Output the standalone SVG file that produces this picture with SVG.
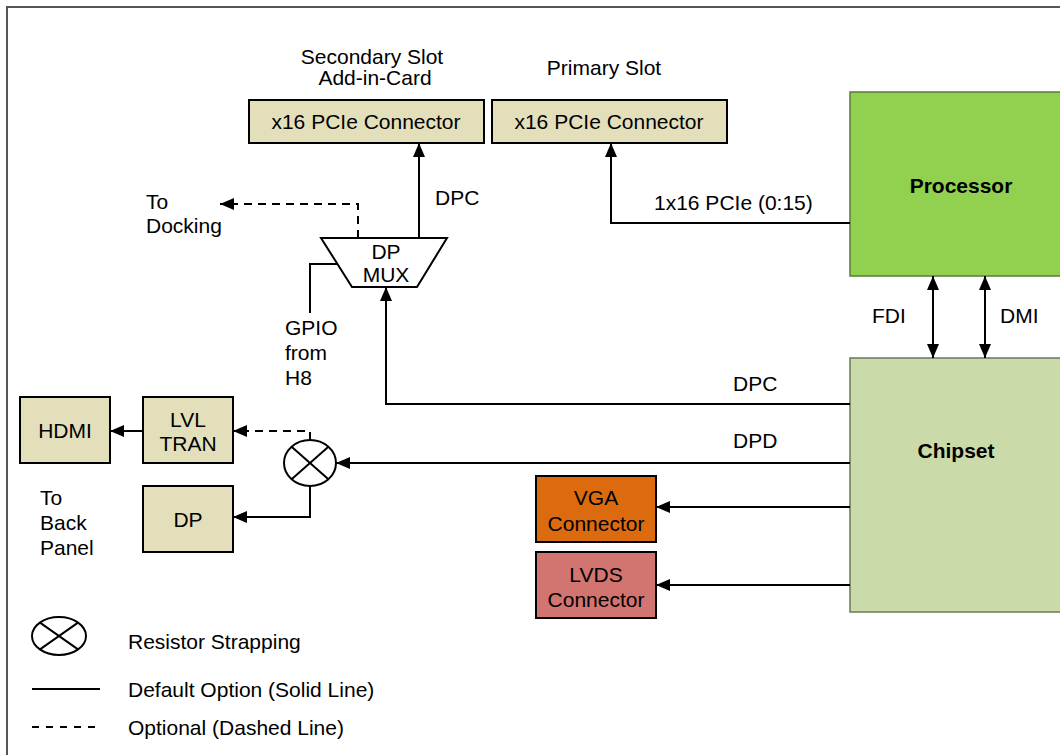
<svg xmlns="http://www.w3.org/2000/svg" width="1060" height="755" viewBox="0 0 1060 755">
  <style>
    text { font-family: "Liberation Sans", Arial, sans-serif; font-size: 21px; fill: #000; }
    .mid { text-anchor: middle; }
    .bold { font-weight: bold; }
    .box { stroke: #000; stroke-width: 2; }
    .slot { fill: #e3dfbb; }
    .wire { fill: none; stroke: #000; stroke-width: 2; }
    .dash { stroke-dasharray: 8 6; }
    .arr { marker-end: url(#head); }
    .both { marker-start: url(#head); marker-end: url(#head); }
  </style>
  <defs>
    <marker id="head" markerUnits="userSpaceOnUse" markerWidth="14" markerHeight="12" refX="14" refY="6" orient="auto-start-reverse">
      <path d="M0,0 L14,6 L0,12 z" fill="#000"/>
    </marker>
  </defs>

  <rect width="1060" height="755" fill="#fff"/>
  <!-- page frame -->
  <path d="M7,755 V7 H1060" fill="none" stroke="#555" stroke-width="2"/>

  <!-- slot captions -->
  <text class="mid" x="372" y="64">Secondary Slot</text>
  <text class="mid" x="375" y="85">Add-in-Card</text>
  <text class="mid" x="604" y="75">Primary Slot</text>

  <g id="secondary-slot">
    <rect class="box slot" x="249" y="100" width="235" height="43"/>
    <text class="mid" x="366" y="129">x16 PCIe Connector</text>
  </g>
  <g id="primary-slot">
    <rect class="box slot" x="492" y="100" width="235" height="43"/>
    <text class="mid" x="609" y="129">x16 PCIe Connector</text>
  </g>

  <g id="processor">
    <rect x="850" y="92" width="220" height="184" fill="#92d050" stroke="#5b7a3c" stroke-width="1.5"/>
    <text class="mid bold" x="961" y="193">Processor</text>
  </g>
  <g id="chipset">
    <rect x="850" y="358" width="220" height="254" fill="#cbdaa9" stroke="#6b7858" stroke-width="1.5"/>
    <text class="mid bold" x="956" y="458">Chipset</text>
  </g>

  <g id="dp-mux">
    <path class="box" d="M321,238 H447 L417,287 H352 Z" fill="#fff"/>
    <text class="mid" x="386" y="259">DP</text>
    <text class="mid" x="386" y="282">MUX</text>
  </g>

  <g id="strap">
    <ellipse cx="310" cy="463" rx="26" ry="23" fill="#fff" stroke="#000" stroke-width="2"/>
    <path d="M291.6,446.7 L328.4,479.3 M328.4,446.7 L291.6,479.3" stroke="#000" stroke-width="2"/>
  </g>

  <g id="hdmi">
    <rect class="box slot" x="20" y="397" width="90" height="66"/>
    <text class="mid" x="65" y="438">HDMI</text>
  </g>
  <g id="lvl-tran">
    <rect class="box slot" x="143" y="397" width="90" height="66"/>
    <text class="mid" x="188" y="427">LVL</text>
    <text class="mid" x="188" y="451">TRAN</text>
  </g>
  <g id="dp">
    <rect class="box slot" x="143" y="486" width="90" height="66"/>
    <text class="mid" x="188" y="527">DP</text>
  </g>
  <g id="vga">
    <rect class="box" x="536" y="476" width="120" height="66" fill="#dc6b10"/>
    <text class="mid" x="596" y="505">VGA</text>
    <text class="mid" x="596" y="531">Connector</text>
  </g>
  <g id="lvds">
    <rect class="box" x="536" y="552" width="120" height="66" fill="#d27470"/>
    <text class="mid" x="596" y="582">LVDS</text>
    <text class="mid" x="596" y="607">Connector</text>
  </g>

  <g id="connectors">
    <path class="wire arr" d="M419,238 V143"/>
    <path class="wire dash arr" d="M358,238 V204 H220"/>
    <path class="wire arr" d="M850,223 H611 V143"/>
    <path class="wire" d="M337,264 H310 V313"/>
    <path class="wire arr" d="M850,404 H386 V287"/>
    <path class="wire arr" d="M850,463 H336"/>
    <path class="wire dash arr" d="M310,440 V431 H233"/>
    <path class="wire arr" d="M143,431 H110"/>
    <path class="wire arr" d="M310,486 V517 H233"/>
    <path class="wire arr" d="M850,507 H656"/>
    <path class="wire arr" d="M850,585 H656"/>
    <path class="wire both" d="M933,276 V358"/>
    <path class="wire both" d="M985,276 V358"/>
  </g>

  <!-- connector labels -->
  <text x="435" y="205">DPC</text>
  <text x="146" y="209">To</text>
  <text x="146" y="233">Docking</text>
  <text x="654" y="210">1x16 PCIe (0:15)</text>
  <text x="285" y="335">GPIO</text>
  <text x="285" y="360">from</text>
  <text x="285" y="385">H8</text>
  <text x="872" y="323">FDI</text>
  <text x="1000" y="323">DMI</text>
  <text x="733" y="391">DPC</text>
  <text x="733" y="448">DPD</text>
  <text x="40" y="505">To</text>
  <text x="40" y="530">Back</text>
  <text x="40" y="555">Panel</text>

  <g id="legend">
    <ellipse cx="59" cy="636" rx="27" ry="19" fill="none" stroke="#000" stroke-width="2"/>
    <path d="M40,622.6 L78,649.4 M78,622.6 L40,649.4" stroke="#000" stroke-width="2"/>
    <text x="128" y="649">Resistor Strapping</text>
    <path d="M32,689 H100" stroke="#000" stroke-width="2"/>
    <text x="128" y="697">Default Option (Solid Line)</text>
    <path d="M32,727 H100" stroke="#000" stroke-width="2" stroke-dasharray="7 7"/>
    <text x="128" y="735">Optional (Dashed Line)</text>
  </g>
</svg>
